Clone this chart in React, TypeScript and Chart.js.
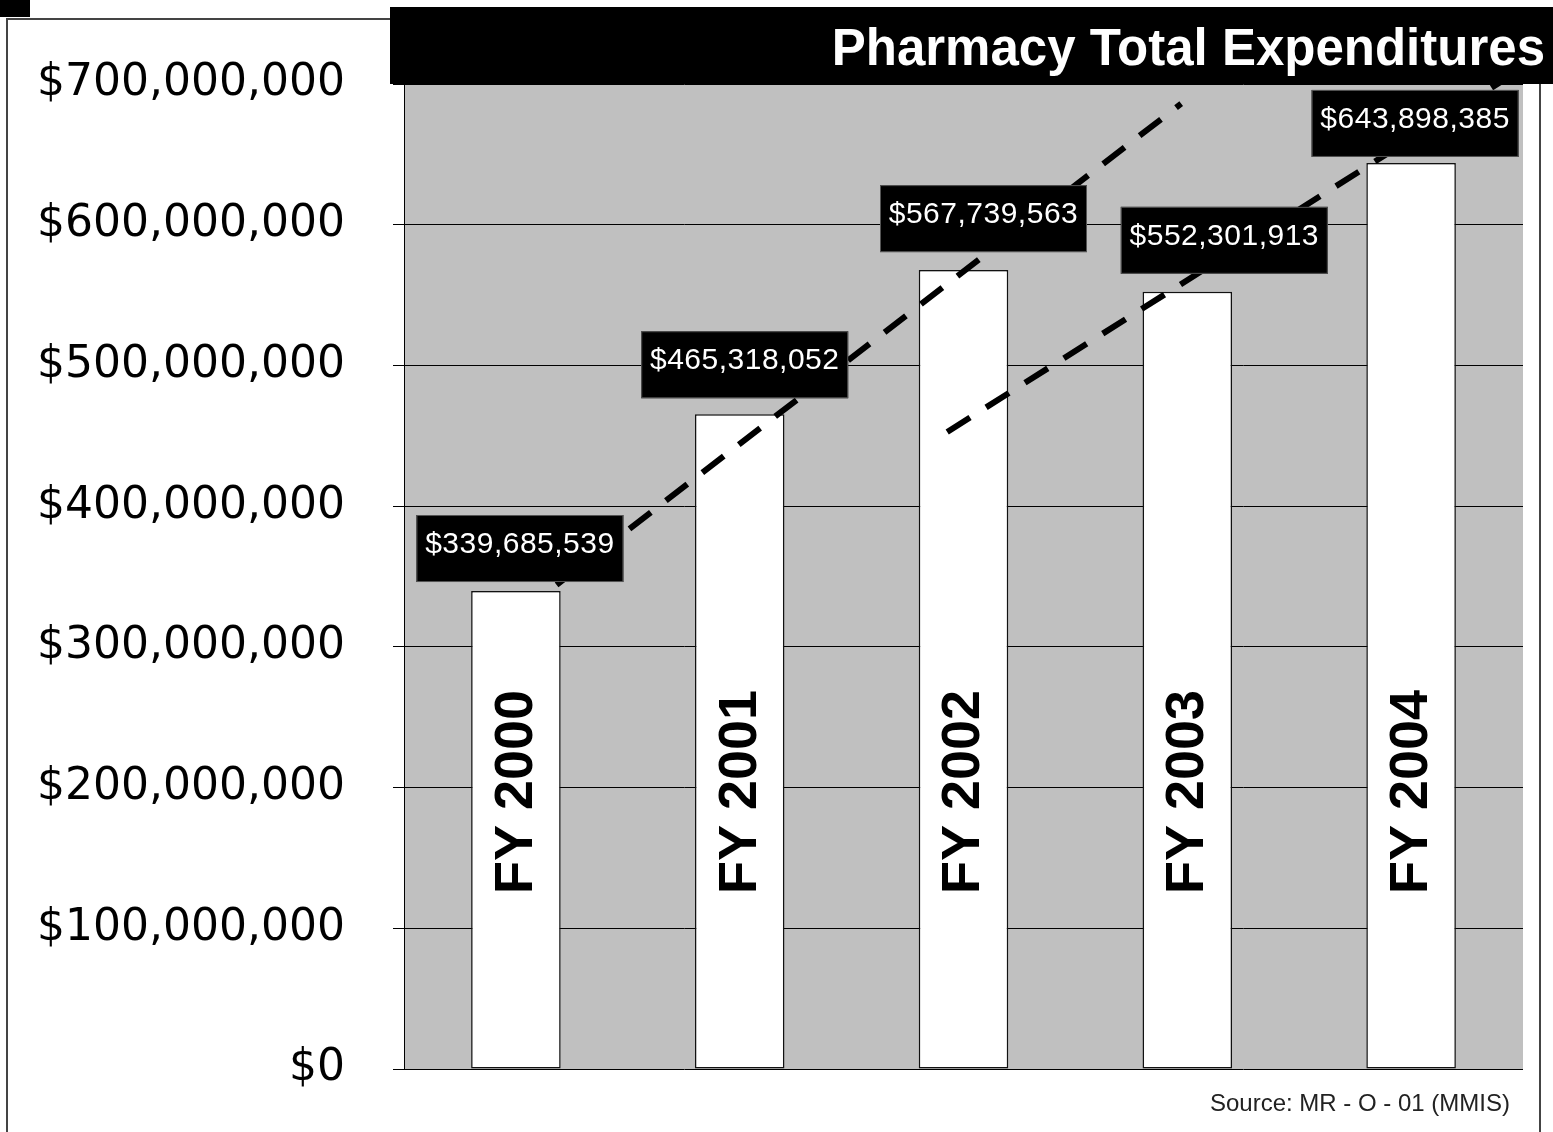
import React, { useEffect, useRef } from 'react';
import { Chart, registerables } from 'chart.js';

Chart.register(...registerables);

// ---- data ----
const categories = ['FY 2000', 'FY 2001', 'FY 2002', 'FY 2003', 'FY 2004'];
const expenditures = [339685539, 465318052, 567739563, 552301913, 643898385];
const yMin = 0;
const yMax = 700000000;
const yStep = 100000000;
// dashed trend strokes (x in category index units, y in dollars)
const trendAX = [0, 3.07];
const trendAY = [344000000, 686000000];
const trendBX = [1.92, 4.64];
const trendBY = [452700000, 701400000];

const titleText = 'Pharmacy Total Expenditures';
const sourceText = 'Source: MR - O - 01 (MMIS)';

// ---- label placement (pixels, relative to each bar) ----
const labelShiftX = [4, 5, 20, 37, 4];
const labelGap = [9, 16, 18, 18, 6];

const W = 1553;
const H = 1132;

const fmtMoney = (v: number) => '$' + Math.round(v).toLocaleString('en-US');

export default function App() {
  const ref = useRef<HTMLCanvasElement | null>(null);

  useEffect(() => {
    document.body.style.margin = '0';
    const canvas = ref.current;
    if (!canvas) return;

    const bgPlugin = {
      id: 'bgPlugin',
      beforeDraw(chart: any) {
        const { ctx, chartArea: a } = chart;
        ctx.save();
        ctx.fillStyle = '#ffffff';
        ctx.fillRect(0, 0, W, H);
        ctx.fillStyle = '#000000';
        ctx.fillRect(0, 0, 30, 17);
        ctx.strokeStyle = '#444444';
        ctx.lineWidth = 2;
        ctx.strokeRect(7, 19, 1533, H + 10);
        ctx.fillStyle = '#c0c0c0';
        ctx.fillRect(a.left, a.top, a.right - a.left, a.bottom - a.top);
        ctx.restore();
      },
    };

    const labelPlugin = {
      id: 'labelPlugin',
      afterDatasetsDraw(chart: any) {
        const { ctx, chartArea: a } = chart;
        const meta = chart.getDatasetMeta(0);
        ctx.save();
        // category labels inside bars
        meta.data.forEach((bar: any, i: number) => {
          ctx.save();
          ctx.translate(bar.x + 1, a.bottom - 277);
          ctx.rotate(-Math.PI / 2);
          ctx.fillStyle = '#000000';
          ctx.font = 'bold 54px "Liberation Sans", Arial, sans-serif';
          ctx.textAlign = 'center';
          ctx.textBaseline = 'middle';
          ctx.fillText(categories[i], 0, 0);
          ctx.restore();
        });
        // value boxes
        meta.data.forEach((bar: any, i: number) => {
          const bw = 207;
          const bh = 67;
          const cx = bar.x + labelShiftX[i];
          const bottom = bar.y - labelGap[i];
          const top = bottom - bh;
          const left = cx - bw / 2;
          ctx.fillStyle = '#000000';
          ctx.fillRect(left, top, bw, bh);
          ctx.strokeStyle = '#555555';
          ctx.lineWidth = 1;
          ctx.strokeRect(left + 0.5, top + 0.5, bw - 1, bh - 1);
          ctx.fillStyle = '#ffffff';
          ctx.font = '30px "Liberation Sans", Arial, sans-serif';
          (ctx as any).letterSpacing = '0.5px';
          ctx.textAlign = 'center';
          ctx.textBaseline = 'middle';
          ctx.fillText(fmtMoney(expenditures[i]), cx, top + 30);
          (ctx as any).letterSpacing = '0px';
        });
        ctx.restore();
      },
    };

    const titlePlugin = {
      id: 'titlePlugin',
      afterDraw(chart: any) {
        const { ctx } = chart;
        ctx.save();
        ctx.fillStyle = '#000000';
        ctx.fillRect(390, 7, W - 390, 77);
        ctx.fillStyle = '#ffffff';
        ctx.font = 'bold 51px "Liberation Sans", Arial, sans-serif';
        ctx.textAlign = 'right';
        ctx.textBaseline = 'alphabetic';
        ctx.fillText(titleText, 1545, 65);
        ctx.fillStyle = '#222222';
        ctx.font = '24px "Liberation Sans", Arial, sans-serif';
        ctx.textBaseline = 'middle';
        ctx.fillText(sourceText, 1510, 1104);
        ctx.restore();
      },
    };

    const chart = new Chart(canvas, {
      type: 'bar',
      data: {
        labels: categories,
        datasets: [
          {
            type: 'bar',
            data: expenditures,
            backgroundColor: '#ffffff',
            borderColor: '#111111',
            borderWidth: 1.5,
            borderSkipped: false,
            grouped: false,
            categoryPercentage: 1,
            barPercentage: 0.4,
            order: 2,
            xAxisID: 'x',
            yAxisID: 'y',
          } as any,
          {
            type: 'line',
            data: trendAX.map((x, i) => ({ x, y: trendAY[i] })),
            borderColor: '#000000',
            borderWidth: 6,
            borderDash: [27, 19],
            borderCapStyle: 'butt',
            pointRadius: 0,
            fill: false,
            clip: false,
            order: 1,
            xAxisID: 'x2',
            yAxisID: 'y',
          } as any,
          {
            type: 'line',
            data: trendBX.map((x, i) => ({ x, y: trendBY[i] })),
            borderColor: '#000000',
            borderWidth: 6,
            borderDash: [27, 19],
            borderCapStyle: 'butt',
            pointRadius: 0,
            fill: false,
            clip: false,
            order: 1,
            xAxisID: 'x2',
            yAxisID: 'y',
          } as any,
        ],
      },
      options: {
        responsive: false,
        animation: false,
        devicePixelRatio: 1,
        layout: { padding: { left: 0, right: 30, top: 84, bottom: 63 } },
        plugins: {
          legend: { display: false },
          tooltip: { enabled: false },
          title: { display: false },
        },
        scales: {
          x: {
            type: 'category',
            display: false,
            offset: true,
          },
          x2: {
            type: 'linear',
            display: false,
            min: -0.5,
            max: 4.5,
          },
          y: {
            type: 'linear',
            position: 'left',
            min: yMin,
            max: yMax,
            afterFit(scale: any) {
              scale.width = 404;
              scale.paddingTop = 20;
              scale.paddingBottom = 20;
            },
            ticks: {
              stepSize: yStep,
              color: '#000000',
              padding: 48,
              font: { family: '"DejaVu Sans", sans-serif', size: 44 },
              callback: (v: any) => fmtMoney(Number(v)),
            },
            grid: {
              color: '#000000',
              lineWidth: 1,
              drawTicks: true,
              tickLength: 11,
              tickColor: '#000000',
            },
            border: { display: true, color: '#000000', width: 1 },
          },
        },
      } as any,
      plugins: [bgPlugin, labelPlugin, titlePlugin],
    });

    return () => {
      chart.destroy();
    };
  }, []);

  return (
    <div style={{ position: 'absolute', left: 0, top: 0, width: W, height: H }}>
      <canvas ref={ref} width={W} height={H} style={{ width: W, height: H, display: 'block' }} />
    </div>
  );
}
